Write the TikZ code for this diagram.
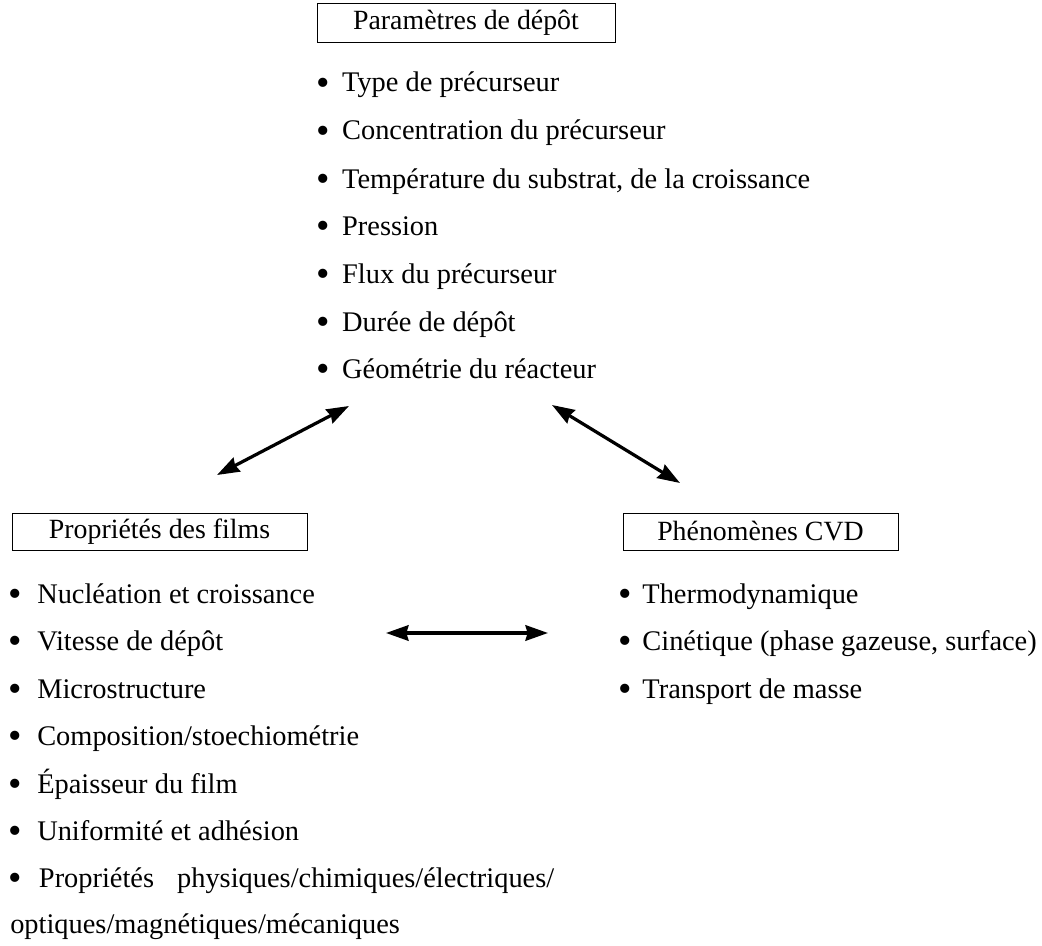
\documentclass[tikz,border=0pt]{standalone}
\usepackage{fontspec}
\setmainfont{Liberation Serif}
\usetikzlibrary{arrows.meta}

\newcommand{\puce}{\raisebox{-0.13em}{\scalebox{1.35}{\textbullet}}}

\begin{document}
\begin{tikzpicture}[x=0.025cm, y=-0.025cm,
  titre/.style={draw, line width=0.6pt, inner sep=0pt, font=\fontsize{19.8}{23.5}\selectfont},
  item/.style={anchor=base west, inner sep=0pt, font=\fontsize{20.2}{24}\selectfont},
  fleche/.style={line width=2.3pt, {Stealth[length=16pt,width=11pt,inset=1.5pt]}-{Stealth[length=16pt,width=11pt,inset=1.5pt]}}]

\useasboundingbox (0,0) rectangle (1042,946);

% parametres
\node[titre, minimum width=7.45cm, minimum height=0.975cm] (param) at (466,22.5) {Paramètres de dépôt};
\node[item] (param1) at (316.5,92) {\puce\hspace{0.42em}Type de précurseur};
\node[item] (param2) at (316.5,140) {\puce\hspace{0.42em}Concentration du précurseur};
\node[item] (param3) at (316.5,188) {\puce\hspace{0.42em}Température du substrat, de la croissance};
\node[item] (param4) at (316.5,235) {\puce\hspace{0.42em}Pression};
\node[item] (param5) at (316.5,283) {\puce\hspace{0.42em}Flux du précurseur};
\node[item] (param6) at (316.5,331) {\puce\hspace{0.42em}Durée de dépôt};
\node[item] (param7) at (316.5,378) {\puce\hspace{0.42em}Géométrie du réacteur};

% proprietes
\node[titre, minimum width=7.375cm, minimum height=0.925cm] (prop) at (159.5,531.5) {Propriétés des films};
\node[item] (prop1) at (8.5,603) {\puce\hspace{0.53em}Nucléation et croissance};
\node[item] (prop2) at (8.5,650) {\puce\hspace{0.53em}Vitesse de dépôt};
\node[item] (prop3) at (8.5,698) {\puce\hspace{0.53em}Microstructure};
\node[item] (prop4) at (8.5,745) {\puce\hspace{0.53em}Composition/stoechiométrie};
\node[item] (prop5) at (8.5,793) {\puce\hspace{0.53em}Épaisseur du film};
\node[item] (prop6) at (8.5,840) {\puce\hspace{0.53em}Uniformité et adhésion};
\node[item] (prop7) at (8.5,887) {\puce\hspace{0.59em}Propriétés\hspace{0.81em}physiques/chimiques/électriques/};
\node[item] (prop8) at (10,933) {optiques/magnétiques/mécaniques};

% phenomenes
\node[titre, minimum width=6.875cm, minimum height=0.925cm] (cvd) at (760.5,531.5) {Phénomènes CVD};
\node[item] (cvd1) at (618.5,603) {\puce\hspace{0.36em}Thermodynamique};
\node[item] (cvd2) at (618.5,650) {\puce\hspace{0.36em}Cinétique (phase gazeuse, surface)};
\node[item] (cvd3) at (618.5,698) {\puce\hspace{0.36em}Transport de masse};

% fleches
\coordinate (a1) at (217,475);
\coordinate (a2) at (349,406);
\coordinate (b1) at (552,405);
\coordinate (b2) at (680,483);
\coordinate (c1) at (386,633);
\coordinate (c2) at (548,633);

\draw[fleche] (a1) -- (a2);
\draw[fleche] (b1) -- (b2);
\draw[fleche] (c1) -- (c2);

\end{tikzpicture}
\end{document}
